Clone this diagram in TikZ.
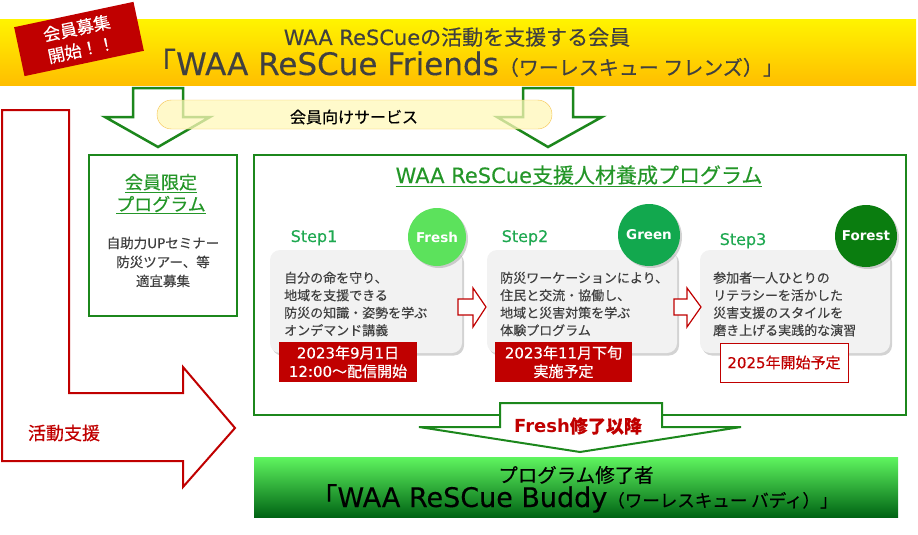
\documentclass[tikz,border=0pt]{standalone}
\usepackage{fontspec}
\setmainfont{Noto Sans CJK JP}[FakeBold=0.35]
\newfontfamily\latinfont{DejaVu Sans}[UprightFeatures={FakeBold=0.3}]
\usetikzlibrary{shadows}

\definecolor{textgrey}{RGB}{64,64,64}
\definecolor{framegreen}{RGB}{28,135,28}
\definecolor{titlegreen}{RGB}{36,150,40}
\definecolor{stepgreen}{RGB}{30,168,80}
\definecolor{freshgreen}{RGB}{92,226,92}
\definecolor{midgreen}{RGB}{18,168,78}
\definecolor{forestgreen}{RGB}{10,125,15}
\definecolor{tagred}{RGB}{192,0,0}
\definecolor{boxgrey}{RGB}{242,242,242}
\definecolor{bannertop}{RGB}{255,243,0}
\definecolor{bannerbot}{RGB}{255,190,0}
\definecolor{pillfill}{RGB}{255,248,185}
\definecolor{pillline}{RGB}{245,195,80}
\definecolor{buddytop}{RGB}{95,245,95}
\definecolor{buddybot}{RGB}{0,100,20}

\newcommand{\eng}[1]{{\latinfont #1}}
\newcommand{\fsz}[2]{\fontsize{#1}{#2}\selectfont}

\begin{document}
\begin{tikzpicture}[x=1pt, y=-1pt, inner sep=0pt,
    txt/.style={text=textgrey, align=center},
    tagbox/.style={fill=tagred, minimum width=122pt, minimum height=50pt, rotate=12,
                   text=white, align=center, font=\fsz{17}{22}},
    bigarrow/.style={draw=framegreen, line width=2.5pt, fill=white, line join=miter},
    frame/.style={draw=framegreen, line width=2.5pt},
    stepbox/.style={fill=boxgrey, rounded corners=10pt,
                    drop shadow={shadow xshift=2pt, shadow yshift=-2.5pt, opacity=0.35}},
    badge/.style={circle, minimum size=62pt, text=white, font=\latinfont\bfseries\fsz{13.5}{16},
                  drop shadow={shadow xshift=2pt, shadow yshift=-2pt, opacity=0.35}},
    steplabel/.style={anchor=base, text=stepgreen, font=\latinfont\fsz{16}{18}},
    boxtext/.style={anchor=west, text=textgrey, align=left, font=\fsz{13}{17.5}},
    datebox/.style={fill=tagred, text=white, align=center, font=\fsz{15}{18.5}},
    smallarrow/.style={draw=tagred, line width=1.2pt, fill=white},
]
\useasboundingbox (0,0) rectangle (918,535);

% ---------------- top banner ----------------
\fill[top color=bannertop, bottom color=bannerbot] (0,20) rectangle (916,85);
\node[anchor=base, text=textgrey, font=\fsz{21}{24}] (head1) at (457,45)
    {\eng{WAA ReSCue}の活動を支援する会員};
\node[anchor=base, text=textgrey] (head2) at (464,75)
    {\fsz{31}{34}「\eng{WAA ReSCue Friends}\fsz{20}{22}（ワーレスキュー フレンズ）」};
\node[tagbox] (tag) at (79,39) {会員募集\\開始！！};

% ---------------- member services ----------------
\draw[bigarrow] (133,88) -- (183,88) -- (183,117) -- (210,117) -- (158,147) -- (105,117) -- (133,117) -- cycle;
\draw[bigarrow] (523,88) -- (573,88) -- (573,117) -- (602,117) -- (548,147) -- (497,117) -- (523,117) -- cycle;
\draw[pillline, fill=pillfill, fill opacity=0.75, rounded corners=14.5pt] (157,100) rectangle (552,129);
\node[font=\fsz{16}{18}] (service) at (354,117) {会員向けサービス};

% ---------------- members-only programme ----------------
\draw[frame] (89,155) rectangle (237,316);
\node[text=titlegreen, align=center, font=\fsz{18}{22}] (memtitle) at (161,194)
    {\underline{会員限定}\\\underline{プログラム}};
\node[txt, font=\fsz{13.5}{19}] (memtext) at (163,262) {自助力\eng{UP}セミナー\\防災ツアー、等\\適宜募集};

% ---------------- training programme ----------------
\draw[frame] (254,155) rectangle (906,415);
\node[anchor=base, text=titlegreen, font=\fsz{21}{24}] (progtitle) at (579,183)
    {\underline{\eng{WAA ReSCue}支援人材養成プログラム}};

\node[stepbox, minimum width=192pt, minimum height=103pt] (box1) at (366,301.5) {};
\node[stepbox, minimum width=190pt, minimum height=103pt] (box2) at (582,301.5) {};
\node[stepbox, minimum width=190pt, minimum height=103pt] (box3) at (795,301.5) {};

\node[steplabel] (step1) at (314,242) {Step1};
\node[steplabel] (step2) at (525,242) {Step2};
\node[steplabel] (step3) at (743,245) {Step3};

\node[badge, fill=freshgreen, minimum size=58pt] (fresh) at (437,237) {Fresh};
\node[badge, fill=midgreen] (green) at (649,235) {Green};
\node[badge, fill=forestgreen] (forest) at (866,236) {Forest};

\node[boxtext] (text1) at (284,304) {自分の命を守り、\\地域を支援できる\\防災の知識・姿勢を学ぶ\\オンデマンド講義};
\node[boxtext] (text2) at (500,304) {防災ワーケーションにより、\\住民と交流・協働し、\\地域と災害対策を学ぶ\\体験プログラム};
\node[boxtext] (text3) at (713,304) {参加者一人ひとりの\\リテラシーを活かした\\災害支援のスタイルを\\磨き上げる実践的な演習};

\draw[smallarrow] (458,299) -- (473,299) -- (473,288) -- (486,307) -- (473,327) -- (473,315) -- (458,315) -- cycle;
\draw[smallarrow] (674,299) -- (687,299) -- (687,288) -- (701,307) -- (687,327) -- (687,315) -- (674,315) -- cycle;

\node[datebox, minimum width=138pt, minimum height=40pt] (date1) at (348,362)
    {\eng{2023}年\eng{9}月\eng{1}日\\\eng{12:00}～配信開始};
\node[datebox, minimum width=137pt, minimum height=40pt] (date2) at (563.5,362)
    {\eng{2023}年\eng{11}月下旬\\実施予定};
\node[datebox, fill=white, draw=tagred, line width=1pt, text=tagred, minimum width=128pt, minimum height=39pt]
    (date3) at (784,362.5) {\eng{2025}年開始予定};

% ---------------- activity support ----------------
\draw[draw=tagred, line width=2pt, fill=white] (2,110) -- (69,110) -- (69,393) -- (183,393) -- (183,367)
    -- (235,428) -- (183,487) -- (183,461) -- (2,461) -- cycle;
\node[text=tagred, font=\fsz{18}{20}] (support) at (64,433) {活動支援};

% ---------------- buddy ----------------
\draw[draw=framegreen, line width=2pt, fill=white, line join=miter] (500,403) -- (662,403) -- (662,427)
    -- (741,427) -- (580,452) -- (419,427) -- (500,427) -- cycle;
\node[text=tagred, font=\bfseries\fsz{18}{20}] (after) at (578,426) {\eng{Fresh}修了以降};

\fill[top color=buddytop, bottom color=buddybot] (254,457) rectangle (898,517);
\node[font=\fsz{19.5}{22}] (buddy1) at (576,475) {プログラム修了者};
\node[anchor=base] (buddy2) at (574,507)
    {\fsz{27}{30}「\eng{WAA ReSCue Buddy}\fsz{17.5}{20}（ワーレスキュー バディ）」};
\end{tikzpicture}
\end{document}
